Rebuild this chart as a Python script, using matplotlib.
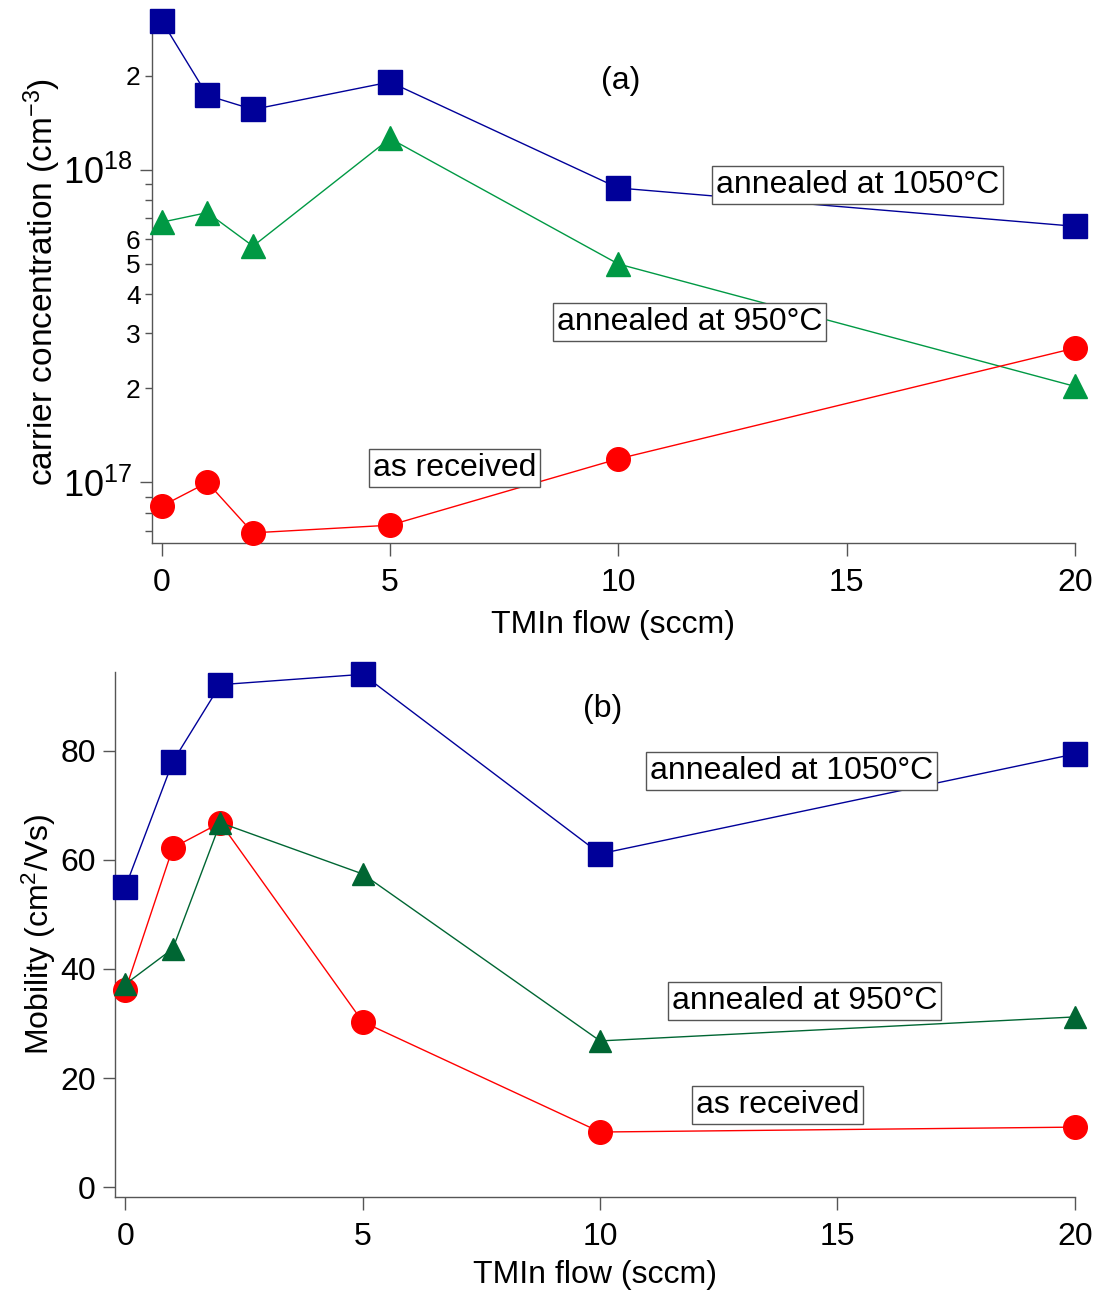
import numpy as np
import matplotlib
matplotlib.use("Agg")
import matplotlib.pyplot as plt
from matplotlib.ticker import FixedLocator, FixedFormatter

plt.rcParams['font.family'] = ['Liberation Sans', 'DejaVu Sans']
plt.rcParams['mathtext.fontset'] = 'custom'
plt.rcParams['mathtext.rm'] = 'Liberation Sans'
plt.rcParams['mathtext.it'] = 'Liberation Sans'
plt.rcParams['mathtext.default'] = 'regular'

# ===== Data =====
flow = [0, 1, 2, 5, 10, 20]   # TMIn flow (sccm)

conc_1050 = [3.0e18, 1.73e18, 1.56e18, 1.91e18, 8.75e17, 6.6e17]
conc_950 = [6.8e17, 7.3e17, 5.7e17, 1.26e18, 5.0e17, 2.03e17]
conc_asrec = [8.4e16, 1.0e17, 6.9e16, 7.3e16, 1.19e17, 2.69e17]

mob_1050 = [55.0, 78.0, 92.1, 94.0, 61.1, 79.4]
mob_950 = [37.2, 43.7, 66.8, 57.4, 26.8, 31.2]
mob_asrec = [36.1, 62.2, 66.8, 30.3, 10.1, 11.0]
# ================

BLUE = "#000099"
GREEN_A = "#009944"
GREEN_B = "#006633"
RED = "#ff0000"
FS = 23

fig = plt.figure(figsize=(10.99, 12.94), dpi=100)
ax1 = fig.add_axes([0.138, 0.580, 0.840, 0.404])
ax2 = fig.add_axes([0.105, 0.075, 0.873, 0.406])


def style(ax):
    for s in ("top", "right"):
        ax.spines[s].set_visible(False)
    for s in ("left", "bottom"):
        ax.spines[s].set_color("#555555")
        ax.spines[s].set_linewidth(1.0)
    ax.tick_params(which="both", direction="out", color="#555555")
    ax.tick_params(which="major", length=9, width=1.0, labelsize=FS, pad=5)
    ax.tick_params(which="minor", length=5, width=1.0)
    ax.tick_params(axis="x", which="major", pad=9)


def label_box(ax, x, y, txt):
    ax.text(x, y, txt, transform=ax.transAxes, ha="center", va="center",
            fontsize=FS, zorder=5,
            bbox=dict(boxstyle="square,pad=0.12", fc="white", ec="#555555", lw=1.0))


# ---- (a) carrier concentration ----
ax1.plot(flow, conc_1050, color=BLUE, lw=1, marker="s", ms=17, clip_on=False, zorder=3)
ax1.plot(flow, conc_950, color=GREEN_A, lw=1, marker="^", ms=17, clip_on=False, zorder=3)
ax1.plot(flow, conc_asrec, color=RED, lw=1, marker="o", ms=17, clip_on=False, zorder=3)
ax1.set_yscale("log")
ax1.set_xlim(-0.22, 20)
ax1.set_ylim(6.38e16, 3.0e18)
style(ax1)
ax1.yaxis.set_major_locator(FixedLocator([1e17, 1e18]))
ax1.yaxis.set_major_formatter(FixedFormatter([r"$10^{17}$", r"$10^{18}$"]))
minor_pos = [7e16, 8e16, 9e16, 2e17, 3e17, 4e17, 5e17, 6e17, 7e17, 8e17, 9e17, 2e18]
minor_lab = ["", "", "", "2", "3", "4", "5", "6", "", "", "", "2"]
ax1.yaxis.set_minor_locator(FixedLocator(minor_pos))
ax1.yaxis.set_minor_formatter(FixedFormatter(minor_lab))
ax1.tick_params(axis="y", which="major", labelsize=26)
ax1.tick_params(axis="y", which="minor", labelsize=19, pad=3)
ax1.set_xticks([0, 5, 10, 15, 20])
ax1.set_xlabel("TMIn flow (sccm)", fontsize=FS, labelpad=8)
ax1.set_ylabel(r"carrier concentration (cm$^{-3}$)", fontsize=24, labelpad=0)
label_box(ax1, 0.765, 0.686, "annealed at 1050°C")
label_box(ax1, 0.583, 0.424, "annealed at 950°C")
label_box(ax1, 0.328, 0.145, "as received")
ax1.text(0.508, 0.885, "(a)", transform=ax1.transAxes, ha="center", va="center", fontsize=FS)

# ---- (b) mobility ----
ax2.plot(flow, mob_1050, color=BLUE, lw=1, marker="s", ms=17, clip_on=False, zorder=3)
ax2.plot(flow, mob_asrec, color=RED, lw=1, marker="o", ms=17, clip_on=False, zorder=3)
ax2.plot(flow, mob_950, color=GREEN_B, lw=1, marker="^", ms=16, clip_on=False, zorder=4)
ax2.set_xlim(-0.21, 20)
ax2.set_ylim(-1.8, 94.5)
style(ax2)
ax2.set_xticks([0, 5, 10, 15, 20])
ax2.set_yticks([0, 20, 40, 60, 80])
ax2.set_xlabel("TMIn flow (sccm)", fontsize=FS, labelpad=6)
ax2.set_ylabel(r"Mobility (cm$^{2}$/Vs)", fontsize=FS, labelpad=2)
label_box(ax2, 0.705, 0.811, "annealed at 1050°C")
label_box(ax2, 0.718, 0.373, "annealed at 950°C")
label_box(ax2, 0.690, 0.175, "as received")
ax2.text(0.508, 0.928, "(b)", transform=ax2.transAxes, ha="center", va="center", fontsize=FS)

fig.savefig("out.png", dpi=100)
